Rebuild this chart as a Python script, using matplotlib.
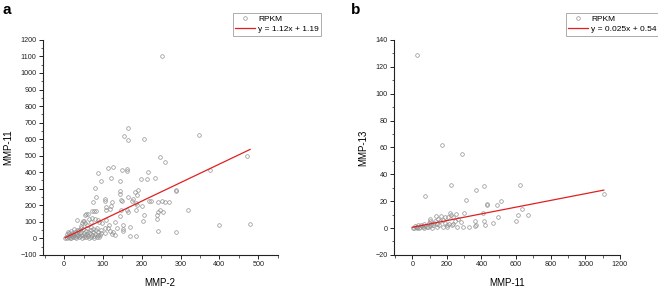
import numpy as np
import matplotlib.pyplot as plt
from matplotlib.ticker import MultipleLocator

plt.rcParams['font.family'] = ['Liberation Sans', 'DejaVu Sans']

# Panel a: MMP-2 (x) vs MMP-11 (y), RPKM
a_x = [252, 154, 165, 165, 205, 347, 398, 479, 470, 375, 318, 289, 288, 289,
       261, 247, 234, 214, 216, 199, 224, 218, 242, 251, 259, 271, 246, 254, 242,
       240, 239, 242, 202, 205, 200, 186, 188, 187, 189, 183, 178, 176, 184,
       112, 125, 88, 96, 122, 143, 150, 163, 163, 143, 143, 164, 146, 150, 106,
       106, 123, 107, 121, 119, 108, 147, 163, 165, 145, 108, 104, 112, 106, 118,
       123, 137, 151, 151, 151, 170, 170, 184, 130, 115, 125, 132, 98, 94,
       80, 82, 75, 83, 78, 71, 57, 62, 54, 65, 73, 79, 86, 89, 48, 47, 53, 51,
       32, 43, 44, 39, 34, 60, 68, 70,
       3, 5, 8, 10, 12, 13, 15, 17, 19, 20, 22, 24, 25, 27, 28, 30, 31, 33, 35,
       36, 38, 40, 42, 44, 45, 47, 49, 50, 52, 54, 56, 57, 59, 61, 62, 64, 66,
       68, 70, 72, 74, 76, 78, 80, 82, 84, 86, 88, 90, 93, 96, 7, 18, 26, 14, 9,
       60, 75, 85]
a_y = [1100, 620, 669, 594, 602, 624, 78, 88, 498, 416, 174, 38, 294, 286,
       464, 490, 364, 356, 404, 360, 224, 224, 220, 226, 222, 222, 170, 158, 160,
       120, 140, 44, 102, 140, 194, 172, 202, 260, 290, 280, 240, 226, 212,
       426, 430, 398, 348, 362, 348, 416, 422, 408, 286, 266, 250, 234, 224, 240,
       224, 222, 190, 194, 180, 174, 172, 172, 162, 136, 114, 62, 62, 34, 44,
       26, 62, 78, 56, 46, 68, 12, 16, 100, 80, 40, 18, 90, 52,
       302, 252, 220, 168, 166, 166, 146, 146, 140, 118, 126, 118, 112, 96, 106,
       94, 94, 102, 110, 76, 62, 52, 48, 80, 70, 100,
       5, 10, 2, 15, 30, 8, 20, 4, 12, 35, 25, 6, 18, 40, 10, 28, 3, 15, 45,
       22, 8, 30, 14, 40, 4, 20, 55, 10, 30, 18, 45, 6, 25, 40, 12, 2, 30,
       50, 8, 20, 38, 14, 4, 28, 50, 10, 22, 40, 6, 18, 30, 25, 45, 55, 0, 40,
       60, 55, 60]
a_fit = (1.12, 1.19)
a_fit_range = (3, 479)

# Panel b: MMP-11 (x) vs MMP-13 (y), RPKM
b_x = [25, 169, 289, 223, 76, 415, 368, 624, 308, 514, 430, 433, 490, 633, 1107,
       667, 609, 597, 494, 467, 417, 422, 360, 362, 370, 299, 296, 238, 267, 252,
       220, 222, 207, 233, 165, 138, 150, 105, 155, 110, 411, 230, 245, 190, 200,
       180, 175, 160, 130, 120, 95, 85, 70, 60, 50, 40, 30, 20, 10, 5, 15, 25,
       35, 45, 55, 65, 75, 90, 100, 140, 125, 115, 200, 280, 330, 260, 215, 190,
       145, 100]
b_y = [129, 62, 55, 32, 24, 31, 28, 32, 21, 20, 18, 17, 17, 14, 25,
       10, 10, 5, 8, 3.5, 5, 2.5, 5.5, 1.5, 2, 11, 1, 3, 7, 10.5,
       11, 9.5, 8, 8.5, 9, 9, 7, 7, 2.5, 3, 11, 2, 5.5, 4, 2,
       6, 1, 5, 5, 2, 4, 1, 3, 0.5, 2, 0.3, 1, 0.5, 0.2, 0, 1.5, 0.2,
       2, 0.8, 1.5, 0.3, 1.2, 0.5, 1.8, 0.5, 4, 0.2, 0.5, 4.5, 0.8, 1, 3, 8.5,
       3, 5]
b_fit = (0.025, 0.54)
b_fit_range = (0, 1107)

fig = plt.figure(figsize=(6.58, 2.89), dpi=100)
ax_a = fig.add_axes([0.065, 0.118, 0.357, 0.744])
ax_b = fig.add_axes([0.599, 0.118, 0.343, 0.744])


def panel(ax, xs, ys, fit, fit_range, xlabel, ylabel, label, xlim, ylim,
          xmaj, xmin, ymaj, ymin, legpos):
    pt, = ax.plot(xs, ys, 'o', ms=2.6, mfc='none', mec='#909090', mew=0.5,
                  linestyle='none')
    fx = np.array(fit_range)
    ln, = ax.plot(fx, fit[0] * fx + fit[1], color='#e02020', lw=0.9)
    ax.set_xlim(xlim)
    ax.set_ylim(ylim)
    ax.xaxis.set_major_locator(MultipleLocator(xmaj))
    ax.xaxis.set_minor_locator(MultipleLocator(xmin))
    ax.yaxis.set_major_locator(MultipleLocator(ymaj))
    ax.yaxis.set_minor_locator(MultipleLocator(ymin))
    for s in ['top', 'right']:
        ax.spines[s].set_visible(False)
    for s in ['left', 'bottom']:
        ax.spines[s].set_linewidth(0.8)
        ax.spines[s].set_color('#222222')
    ax.tick_params(which='major', direction='out', length=3, width=0.7,
                   labelsize=5.2, pad=1.5, colors='#222222')
    ax.tick_params(which='minor', direction='out', length=1.8, width=0.5,
                   colors='#222222')
    ax.set_xlabel(xlabel, fontsize=7, labelpad=7)
    ax.set_ylabel(ylabel, fontsize=7, labelpad=5)
    leg = ax.legend([pt, ln], ['RPKM', label], loc='upper left',
                    bbox_to_anchor=legpos, bbox_transform=fig.transFigure,
                    fontsize=6, frameon=True, fancybox=False,
                    handlelength=2.4, handletextpad=0.3, borderpad=0.3,
                    labelspacing=0.25, borderaxespad=0)
    leg.get_frame().set_edgecolor('#888888')
    leg.get_frame().set_linewidth(0.6)


panel(ax_a, a_x, a_y, a_fit, a_fit_range, 'MMP-2', 'MMP-11',
      'y = 1.12x + 1.19', (-55, 550), (-100, 1200), 100, 50, 100, 50,
      (0.354, 0.955))
panel(ax_b, b_x, b_y, b_fit, b_fit_range, 'MMP-11', 'MMP-13',
      'y = 0.025x + 0.54', (-105, 1200), (-20, 140), 200, 100, 20, 10,
      (0.860, 0.955))

fig.text(0.004, 0.99, 'a', fontsize=11, fontweight='bold', va='top')
fig.text(0.533, 0.99, 'b', fontsize=11, fontweight='bold', va='top')

fig.savefig('out.png', dpi=100)
